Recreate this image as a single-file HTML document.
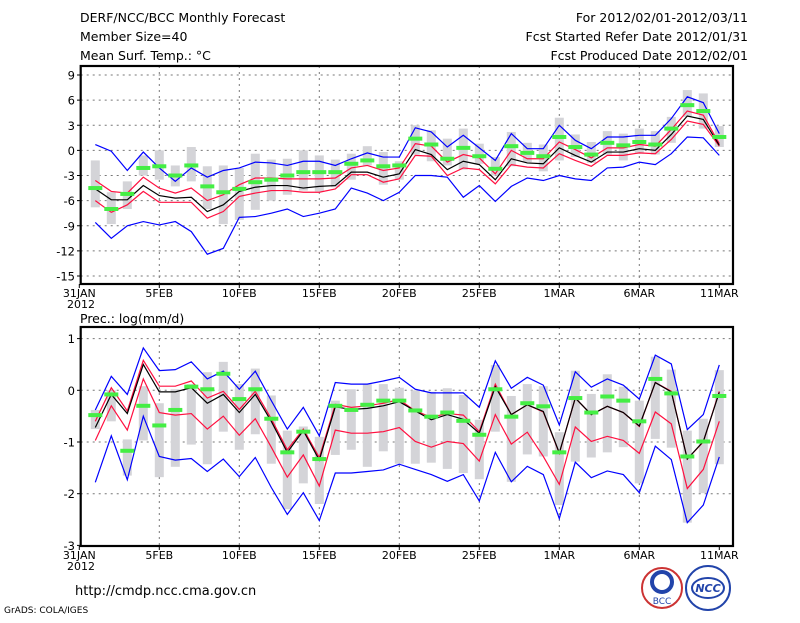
<!DOCTYPE html>
<html><head><meta charset="utf-8"><style>
body{margin:0;background:#fff;}
svg text{font-family:"DejaVu Sans","Liberation Sans",sans-serif;}
</style></head><body>
<svg id="c" width="800" height="618" xmlns="http://www.w3.org/2000/svg">
<rect width="800" height="618" fill="#fff"/>
<g font-size="12.5" fill="#000">
<text x="80" y="22">DERF/NCC/BCC Monthly Forecast</text>
<text x="80" y="41">Member Size=40</text>
<text x="80" y="60">Mean Surf. Temp.: °C</text>
<text x="748" y="22" text-anchor="end">For 2012/02/01-2012/03/11</text>
<text x="748" y="41" text-anchor="end">Fcst Started Refer Date 2012/01/31</text>
<text x="748" y="60" text-anchor="end">Fcst Produced Date 2012/02/01</text>
<text x="80" y="323">Prec.: log(mm/d)</text>
<text x="75" y="595" font-size="13">http://cmdp.ncc.cma.gov.cn</text>
<text x="4" y="613" font-size="9">GrADS: COLA/IGES</text>
</g>
<g>
<circle cx="662" cy="588" r="20" fill="#fff" stroke="#c33" stroke-width="2"/>
<circle cx="662" cy="582" r="10" fill="none" stroke="#24a" stroke-width="4"/>
<text x="662" y="604" font-size="9" text-anchor="middle" fill="#24a">BCC</text>
</g>
<g>
<circle cx="708" cy="588" r="22" fill="#fff" stroke="#24a" stroke-width="2"/>
<ellipse cx="708" cy="588" rx="16" ry="10" fill="none" stroke="#24a" stroke-width="2"/>
<text x="708" y="592" font-size="11" font-style="italic" font-weight="bold" text-anchor="middle" fill="#24a">NCC</text>
</g>
<g id="p1"></g><g id="p2"></g>
</svg>
<script>
// Temperature panel data (days 1..40)
const tMean=[-4.6,-5.9,-5.9,-4.2,-5.4,-5.7,-5.6,-7.3,-6.5,-4.9,-4.4,-4.2,-4.2,-4.5,-4.3,-4.2,-2.6,-2.6,-3.2,-2.8,0.1,-0.5,-2.3,-1.3,-1.7,-3.5,-1.0,-1.5,-1.6,0.3,-0.6,-1.4,-0.2,-0.2,0.2,0,1.9,4.1,3.7,0.6];
const tUp=[-3.6,-4.9,-5.1,-3.2,-4.5,-5.1,-4.5,-6.0,-5.3,-4.1,-3.3,-3.3,-3.4,-3.4,-3.4,-3.3,-2.1,-1.8,-2.4,-2.1,0.8,0.5,-1.4,-0.5,-0.9,-2.8,0,-1.0,-1.0,1.0,0.1,-0.9,0.3,0.3,0.7,0.5,2.5,4.7,4.2,0.8];
const tLo=[-6.0,-7.4,-6.5,-4.9,-6.2,-6.2,-6.2,-8.1,-7.3,-5.5,-5.1,-4.8,-4.8,-5.0,-5.0,-4.6,-2.9,-2.9,-3.8,-3.4,-0.6,-0.7,-3.0,-2.1,-2.3,-4.0,-1.7,-2.0,-2.1,-0.4,-1.2,-1.9,-0.6,-0.6,-0.3,-0.4,1.3,3.5,3.1,0.5];
const tMax=[0.7,-0.1,-2.4,-0.2,-2.1,-3.7,-2.1,-3.2,-2.4,-2.1,-1.4,-1.5,-1.8,-1.3,-1.3,-1.8,-1.0,-0.3,-0.8,-0.8,2.7,2.2,0.4,1.8,0.3,-1.2,2.0,0.2,0.2,3.0,1.2,0.2,1.6,1.6,1.8,1.8,3.8,6.4,5.7,2.0];
const tMin=[-8.6,-10.5,-9.0,-8.5,-8.9,-8.5,-9.7,-12.4,-11.7,-8.0,-7.9,-7.5,-7.0,-7.9,-7.5,-7.0,-4.5,-5.1,-6.0,-5.0,-3.0,-3.0,-3.2,-5.6,-4.2,-6.1,-4.3,-3.3,-3.6,-3.0,-3.4,-3.6,-2.1,-2.0,-1.4,-1.7,-0.4,1.6,1.5,-0.6];
const tObs=[-4.5,-7.0,-5.2,-2.1,-1.9,-3.0,-1.8,-4.3,-5.0,-4.6,-3.8,-3.5,-3.0,-2.6,-2.6,-2.6,-1.6,-1.2,-1.9,-1.8,1.4,0.7,-1.0,0.3,-0.7,-2.2,0.5,-0.3,-0.7,1.6,0.4,-0.5,0.9,0.6,1.0,0.7,2.6,5.4,4.7,1.6];
const tBarLo=[-6.8,-8.8,-7.0,-3.0,-3.5,-4.3,-3.7,-7.0,-8.8,-8.3,-7.1,-6.0,-5.3,-4.8,-4.9,-4.4,-3.5,-1.8,-4.1,-3.5,-0.5,-1.3,-1.8,-2.3,-1.6,-3.0,-1.9,-1.4,-2.5,-1.2,-0.8,-1.5,-0.5,-1.2,-0.4,-0.5,0.9,4.0,2.6,0.4];
const tBarHi=[-1.2,-5.0,-3.7,-0.6,0,-1.8,0.4,-1.9,-1.8,-2.1,-0.4,-1.1,-1.0,0,-0.6,-1.1,-0.4,0.5,-0.2,-1.3,3.0,2.4,1.4,2.6,0.8,-0.8,2.2,0.9,0.7,3.9,1.9,1.0,2.3,2.0,2.6,2.3,4.0,7.2,6.8,2.9];
const tTicks=[9,6,3,0,-3,-6,-9,-12,-15];
// Precipitation panel data
const pMean=[-0.72,-0.08,-0.45,0.5,-0.03,-0.03,0.05,-0.25,-0.08,-0.43,-0.08,-0.6,-1.2,-0.78,-1.35,-0.32,-0.37,-0.35,-0.3,-0.22,-0.4,-0.57,-0.47,-0.56,-0.83,0.07,-0.47,-0.28,-0.41,-1.21,-0.15,-0.47,-0.31,-0.43,-0.69,0.15,-0.03,-1.33,-0.99,-0.04];
const pUp=[-0.6,0.05,-0.4,0.58,0.08,0.08,0.18,-0.15,-0.02,-0.37,-0.02,-0.55,-1.15,-0.75,-1.3,-0.27,-0.33,-0.3,-0.25,-0.18,-0.4,-0.52,-0.45,-0.48,-0.8,0.12,-0.47,-0.28,-0.42,-1.22,-0.15,-0.47,-0.31,-0.43,-0.7,0.15,-0.02,-1.33,-1.0,-0.02];
const pLo=[-0.97,-0.3,-0.77,0.22,-0.43,-0.48,-0.45,-0.75,-0.5,-0.87,-0.55,-1.1,-1.68,-1.25,-1.85,-0.77,-0.83,-0.83,-0.8,-0.72,-0.99,-1.1,-0.99,-1.03,-1.37,-0.47,-1.04,-0.81,-1.28,-1.82,-0.71,-0.99,-0.89,-0.97,-1.22,-0.42,-0.65,-1.9,-1.53,-0.6];
const pMax=[-0.38,0.27,-0.08,0.82,0.38,0.4,0.55,0.22,0.37,0.02,0.37,-0.2,-0.75,-0.33,-0.88,0.15,0.12,0.12,0.18,0.25,0.02,-0.05,-0.05,-0.05,-0.33,0.57,0.04,0.25,0.1,-0.67,0.36,0.06,0.22,0.1,-0.17,0.68,0.51,-0.76,-0.47,0.49];
const pMin=[-1.78,-0.88,-1.73,-0.5,-1.28,-1.35,-1.32,-1.57,-1.33,-1.67,-1.3,-1.88,-2.4,-1.98,-2.52,-1.6,-1.6,-1.57,-1.54,-1.43,-1.53,-1.63,-1.76,-1.63,-2.14,-1.2,-1.77,-1.47,-1.63,-2.48,-1.39,-1.69,-1.56,-1.63,-1.98,-1.08,-1.34,-2.56,-2.22,-1.29];
const pObs=[-0.48,-0.08,-1.17,-0.3,-0.68,-0.38,0.07,0.02,0.32,-0.17,0.02,-0.55,-1.2,-0.8,-1.33,-0.3,-0.38,-0.28,-0.2,-0.2,-0.39,-0.51,-0.43,-0.59,-0.86,0.02,-0.51,-0.25,-0.31,-1.2,-0.15,-0.43,-0.12,-0.2,-0.6,0.22,-0.06,-1.28,-0.99,-0.11];
const pBarLo=[-0.75,-0.6,-1.65,-0.97,-1.68,-1.48,-1.05,-1.43,-0.8,-1.15,-0.85,-1.42,-2.3,-1.8,-2.2,-1.25,-1.15,-1.48,-1.18,-1.42,-1.42,-1.4,-1.52,-1.6,-1.72,-0.8,-1.77,-1.24,-1.28,-2.22,-1.38,-1.3,-1.2,-1.1,-1.8,-0.94,-1.11,-2.56,-1.99,-1.43];
const pBarHi=[-0.38,0.0,-0.95,0.08,-0.25,0.02,0.12,0.35,0.55,0.12,0.42,-0.1,-0.78,-0.7,-0.9,-0.2,0.02,0.12,0.12,0.05,0.0,-0.03,0.04,-0.09,-0.57,0.49,-0.11,0.12,0.08,-0.81,0.38,-0.07,0.31,0.07,-0.2,0.65,0.4,-0.78,-0.55,0.39];
const pTicks=[1,0,-1,-2,-3];
const xLabels=["31JAN","5FEB","10FEB","15FEB","20FEB","25FEB","1MAR","6MAR","11MAR"];
const xLabelDays=[0,5,10,15,20,25,30,35,40];

const NS="http://www.w3.org/2000/svg";
const xs=d=>79.3+16*d;
function mk(parent,tag,attrs){const e=document.createElementNS(NS,tag);for(const k in attrs)e.setAttribute(k,attrs[k]);parent.appendChild(e);return e;}

function panel(g,top,bot,ys,ticks,series,prefix){
  // grid
  ticks.forEach(t=>{const y=ys(t);
    if(y>top+2&&y<bot-2){const l=mk(g,'line',{x1:80.7,x2:733,y1:y,y2:y,stroke:'#777','stroke-dasharray':'2,4','stroke-width':1});
    
    }
    const tx=mk(g,'text',{x:75,y:y+4.5,'text-anchor':'end','font-size':11.5});
    tx.textContent=t;
    
    
    mk(g,'line',{x1:77,x2:80.7,y1:y,y2:y,stroke:'#000'});
  });
  xLabelDays.forEach((d,i)=>{const x=xs(d);
    if(d>0&&d<40){const l=mk(g,'line',{x1:x,x2:x,y1:top,y2:bot,stroke:'#777','stroke-dasharray':'2,4'});
    
    }
    mk(g,'line',{x1:x,x2:x,y1:bot,y2:bot+4,stroke:'#000'});
    const tx=mk(g,'text',{x:x,y:bot+13,'text-anchor':'middle','font-size':11});
    tx.textContent=xLabels[i];
    
    
  });
  const yr=mk(g,'text',{x:67,y:bot+24,'font-size':11});
  yr.textContent='2012';
  
  
  // bars
  series.blo.forEach((lo,i)=>{const hi=series.bhi[i];const y1=ys(hi),y2=ys(lo);
    const r=mk(g,'rect',{x:xs(i+1)-4.5,y:y1,width:9,height:Math.max(1,y2-y1),fill:'#d4d4d8'});
    
    
  });
  const line=(arr,col,name)=>{const p=mk(g,'polyline',{points:arr.map((v,i)=>xs(i+1)+','+ys(v)).join(' '),fill:'none',stroke:col,'stroke-width':1.2});
    
    };
  line(series.max,'#0000ff',prefix+'-max-line');
  line(series.min,'#0000ff',prefix+'-min-line');
  line(series.up,'#ff1040',prefix+'-upper-line');
  line(series.lo,'#ff1040',prefix+'-lower-line');
  line(series.mean,'#000',prefix+'-mean-line');
  series.obs.forEach((v,i)=>{const r=mk(g,'rect',{x:xs(i+1)-7,y:ys(v)-2,width:14,height:4,fill:'#44ee44'});
    
    });
  const f=mk(g,'rect',{x:80.7,y:top,width:652.3,height:bot-top,fill:'none',stroke:'#000','stroke-width':2.2});
  
  
}
const g1=document.getElementById('p1');


panel(g1,66,284,v=>75+(9-v)*8.375,tTicks,{mean:tMean,up:tUp,lo:tLo,max:tMax,min:tMin,obs:tObs,blo:tBarLo,bhi:tBarHi},'temp');
const g2=document.getElementById('p2');


panel(g2,327,546,v=>390.3-51.7*v,pTicks,{mean:pMean,up:pUp,lo:pLo,max:pMax,min:pMin,obs:pObs,blo:pBarLo,bhi:pBarHi},'prec');
</script>
</body></html>
